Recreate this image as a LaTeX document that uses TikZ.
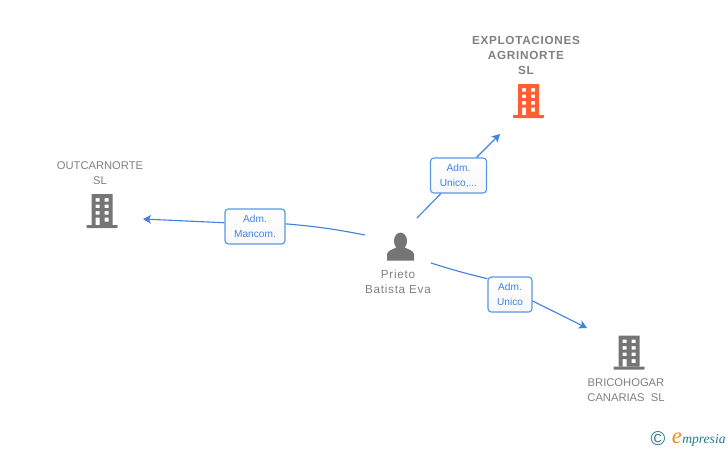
\documentclass[tikz,border=0pt]{standalone}
\usepackage{fontspec}
\setmainfont{Liberation Sans}
\newfontfamily\logofont{Liberation Serif}
\newfontfamily\spacedfont[LetterSpace=6]{Liberation Sans}
\usetikzlibrary{arrows.meta}
\usetikzlibrary{shadings}
\definecolor{labelgray}{HTML}{808080}
\definecolor{icongray}{HTML}{757575}
\definecolor{iconorange}{HTML}{FF5F33}
\definecolor{linkblue}{HTML}{3F83DF}
\definecolor{boxblue}{HTML}{5B97E5}
\definecolor{logoteal}{HTML}{1F7C8C}
\definecolor{logoorange}{HTML}{F08A1D}
\tikzset{
  px/.style={x=0.75pt,y=-0.75pt},
  name text/.style={text=labelgray,align=center,inner sep=0pt,font=\fontsize{8.4}{11.25}\selectfont},
  link/.style={linkblue,line width=0.85pt},
  link tip/.style={link,-{Stealth[length=6pt,width=6.5pt,inset=1.5pt]}},
  role box/.style={draw=boxblue,line width=0.85pt,rounded corners=2.5pt,top color=white,bottom color=white!97!black,
    text=linkblue,align=center,inner sep=0pt,font=\fontsize{7.6}{11.25}\selectfont},
  pics/building/.style={code={
    \fill[#1,even odd rule] (-10.5,-34) rectangle (10.5,-3)
      (-6.5,-30) rectangle (-2.5,-26.5) (2.5,-30) rectangle (6.5,-26.5)
      (-6.5,-23.5) rectangle (-2.5,-20) (2.5,-23.5) rectangle (6.5,-20)
      (-6.5,-17) rectangle (-2.5,-13.5) (2.5,-17) rectangle (6.5,-13.5)
      (-6.5,-10.5) rectangle (-2.5,-3) (2.5,-10.5) rectangle (6.5,-6.5);
    \fill[#1,rounded corners=0.5pt] (-15.5,-3) rectangle (15.5,0);
  }}
}
\begin{document}
\begin{tikzpicture}[px]
\useasboundingbox (0,0) rectangle (728,450);

\pic at (528.5,118) {building=iconorange};
\pic at (102,228) {building=icongray};
\pic at (629,369.5) {building=icongray};

% person
\fill[icongray] (400.5,241) ellipse (6.5 and 8.5);
\fill[icongray] (387,260.5) -- (387,254) .. controls (388,250) and (393,249.5) .. (397,247) -- (404,247) .. controls (408,249.5) and (413,250) .. (414,254) -- (414,260.5) -- cycle;

\node[name text,font=\spacedfont\bfseries\fontsize{8.8}{11.25}\selectfont] (explotaciones) at (526,55) {EXPLOTACIONES\\AGRINORTE\\SL};
\node[name text] (outcarnorte) at (100,173.5) {OUTCARNORTE\\SL};
\node[name text] (bricohogar) at (626,390.5) {BRICOHOGAR\\CANARIAS\ \ SL};
\node[name text,font=\spacedfont\fontsize{8.8}{11.25}\selectfont] (prieto) at (398,282) {Prieto\\Batista Eva};

\coordinate (startW) at (365,235);
\coordinate (startNE) at (417,218);
\coordinate (startSE) at (431,263);
\coordinate (tipW) at (143,219);
\coordinate (tipNE) at (500,134);
\coordinate (tipSE) at (587,328);

\node[role box,minimum width=60pt*0.75,minimum height=35pt*0.75] (mancom) at (255,226.5) {Adm.\\Mancom.};
\node[role box,minimum width=56pt*0.75,minimum height=35pt*0.75] (unicoNE) at (458.5,175.5) {Adm.\\Unico,...};
\node[role box,minimum width=44pt*0.75,minimum height=35pt*0.75] (unicoSE) at (510,294.5) {Adm.\\Unico};

\draw[link] (startW) to[bend right=3] (mancom.5);
\draw[link tip] (mancom.173) -- (tipW);
\draw[link] (startNE) -- (unicoNE);
\draw[link tip] (unicoNE) -- (tipNE);
\draw[link] (startSE) to[bend right=2] (unicoSE.145);
\draw[link tip] (unicoSE.344) -- (tipSE);

% logo
\node[text=logoteal,inner sep=0pt,font=\fontsize{15}{16}\selectfont] (copyr) at (658,439) {©};
\node[text=logoorange,inner sep=0pt,font=\logofont\itshape\fontsize{17}{17}\selectfont] (logoe) at (677,438) {e};
\node[text=logoteal,inner sep=0pt,anchor=west,font=\logofont\itshape\fontsize{10.2}{11}\selectfont] (logotext) at (682,440) {mpresia};
\end{tikzpicture}
\end{document}
